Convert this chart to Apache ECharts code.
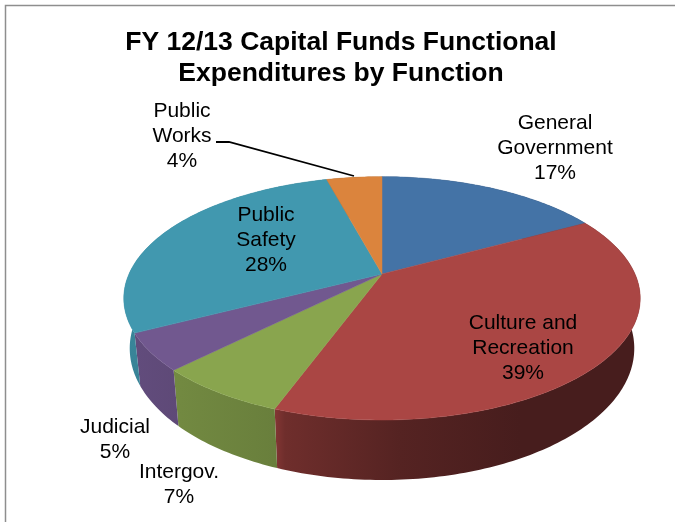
<!DOCTYPE html>
<html><head><meta charset="utf-8">
<style>html,body{margin:0;padding:0;background:#fff}#c{width:675px;height:522px}</style>
<script src="https://cdn.jsdelivr.net/npm/echarts@6/dist/echarts.min.js"></script>
</head><body><div id="c"></div>
<script>
var titleText = 'FY 12/13 Capital Funds Functional\nExpenditures by Function';
var categories = ['General\nGovernment', 'Culture and\nRecreation', 'Intergov.', 'Judicial', 'Public\nSafety', 'Public\nWorks'];
var shares = [17.1, 38.5, 6.9, 4.9, 28.4, 4.2];
var colors = ['#4473a6', '#aa4644', '#89a54e', '#71588f', '#4198af', '#db843d'];
var labelAnchors = [[555, 148], [523, 348], [179, 485], [115, 440], [266, 240], [182, 136]];

// Perspective disc geometry
var CX = 382, CY = 274, RX = 253, RY = 116.8, K = 5, DEPTH = 48, BOTTOM_SHRINK = 0.977;
function project(deg, drop) {
  var a = deg * Math.PI / 180, X = Math.sin(a), Y = -Math.cos(a), s = K / (K - Y);
  var sx = drop ? BOTTOM_SHRINK : 1;
  return [CX + RX * X * s * sx, CY + (RY * Y + drop) * s];
}
function scaleColor(hex, f) {
  var n = parseInt(hex.slice(1), 16);
  return 'rgb(' + [n >> 16 & 255, n >> 8 & 255, n & 255].map(function (v) { return Math.round(v * f); }).join(',') + ')';
}
function sideFill(hex) {
  var x0 = 120, x1 = 650, stops = [[120, .88], [180, .83], [275, .77], [285, .65], [400, .50], [520, .42], [650, .42]];
  return { type: 'linear', x: x0, y: 0, x2: x1, y2: 0, global: true,
    colorStops: stops.map(function (s) { return { offset: (s[0] - x0) / (x1 - x0), color: scaleColor(hex, s[1]) }; }) };
}
var total = shares.reduce(function (a, b) { return a + b; }, 0);
var rows = [], running = 0;
shares.forEach(function (v, i) { rows.push([running, running + v, i]); running += v; });

function renderItem(params, api) {
  var i = api.value(2), a0 = api.value(0) / total * 360, a1 = api.value(1) / total * 360;
  var arc = [], side = [], d;
  var steps = Math.max(8, Math.ceil(a1 - a0));
  for (d = 0; d <= steps; d++) arc.push(project(a0 + (a1 - a0) * d / steps, 0));
  for (d = steps; d >= 0; d--) side.push(project(a0 + (a1 - a0) * d / steps, DEPTH));
  return { type: 'group', children: [
    { type: 'polygon', z2: 1, shape: { points: arc.concat(side) }, style: { fill: sideFill(colors[i]) } },
    { type: 'polygon', z2: 5, shape: { points: [[CX, CY]].concat(arc) }, style: { fill: colors[i], stroke: colors[i], lineWidth: 0.5 } },
    { type: 'text', z2: 10, x: labelAnchors[i][0], y: labelAnchors[i][1], style: {
      text: categories[i] + '\n' + Math.round(shares[i]) + '%', fill: '#000', align: 'center', verticalAlign: 'middle',
      font: '21px "Liberation Sans", Arial, sans-serif', lineHeight: 25 } }
  ] };
}
var chart = echarts.init(document.getElementById('c'), null, { renderer: 'canvas' });
chart.setOption({
  animation: false,
  backgroundColor: '#fff',
  title: { text: titleText, left: 336, top: 22, textAlign: 'center',
    textStyle: { fontFamily: '"Liberation Sans", Arial, sans-serif', fontWeight: 'bold', fontSize: 26.5, lineHeight: 31, color: '#000' } },
  graphic: [
    { type: 'polyline', z: 10, shape: { points: [[216, 142], [229, 142], [354, 176]] }, style: { stroke: '#000', lineWidth: 1.8, fill: null } },
    { type: 'polyline', z: 10, shape: { points: [[5.5, 522], [5.5, 5.5], [675, 5.5]] }, style: { stroke: '#8e8e8e', lineWidth: 1.5, fill: null } }
  ],
  series: [{ type: 'custom', coordinateSystem: 'none', renderItem: renderItem, data: rows, silent: true, clip: false }]
});
</script></body></html>
